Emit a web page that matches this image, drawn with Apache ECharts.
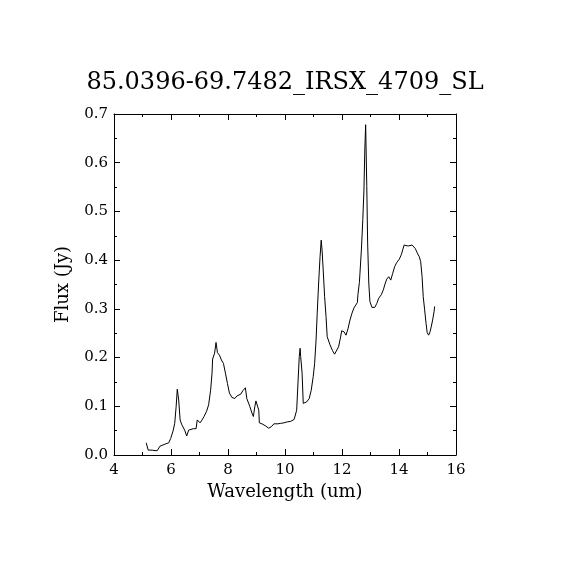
<!DOCTYPE html>
<html lang="en">
  <head>
    <meta charset="UTF-8" />
    <title>85.0396-69.7482_IRSX_4709_SL</title>
    <style>
      html, body { margin: 0; padding: 0; background: #fff; }
      #chart { width: 570px; height: 570px; }
    </style>
  </head>
  <body>
    <div id="chart"></div>

    <script src="https://cdn.jsdelivr.net/npm/echarts@6.0.0/dist/echarts.min.js"></script>
    <script>
      // spectrum
      const wavelength = [
        5.13, 5.20, 5.26, 5.34, 5.44, 5.52, 5.61, 5.68, 5.82, 5.92,
        5.99, 6.08, 6.13, 6.18, 6.22, 6.27, 6.32, 6.38, 6.48, 6.55,
        6.62, 6.69, 6.78, 6.88, 6.92, 6.97, 7.02, 7.09, 7.16, 7.25,
        7.32, 7.39, 7.44, 7.46, 7.51, 7.53, 7.58, 7.63, 7.70, 7.77,
        7.84, 7.91, 7.98, 8.05, 8.14, 8.24, 8.31, 8.38, 8.45, 8.52,
        8.56, 8.61, 8.66, 8.73, 8.77, 8.84, 8.89, 8.94, 8.98, 9.03,
        9.08, 9.10, 9.19, 9.31, 9.43, 9.52, 9.61, 9.68, 9.75, 9.85,
        9.96, 10.08, 10.20, 10.32, 10.36, 10.41, 10.46, 10.50, 10.53, 10.55,
        10.60, 10.64, 10.69, 10.76, 10.85, 10.92, 10.99, 11.04, 11.09, 11.13,
        11.18, 11.23, 11.27, 11.30, 11.34, 11.39, 11.44, 11.48, 11.58, 11.67,
        11.74, 11.81, 11.88, 11.95, 11.99, 12.07, 12.14, 12.21, 12.28, 12.35,
        12.42, 12.49, 12.54, 12.56, 12.61, 12.63, 12.68, 12.73, 12.77, 12.80,
        12.83, 12.87, 12.90, 12.94, 12.98, 13.05, 13.15, 13.22, 13.29, 13.38,
        13.45, 13.52, 13.57, 13.64, 13.71, 13.78, 13.85, 13.92, 14.01, 14.08,
        14.13, 14.18, 14.25, 14.32, 14.39, 14.46, 14.53, 14.57, 14.64, 14.71,
        14.76, 14.81, 14.85, 14.90, 14.95, 14.99, 15.04, 15.09, 15.13, 15.18,
        15.23, 15.25
      ];
      const flux = [
        0.025, 0.010, 0.009, 0.010, 0.009, 0.009, 0.018, 0.021, 0.023, 0.025,
        0.034, 0.051, 0.065, 0.099, 0.135, 0.113, 0.072, 0.062, 0.051, 0.039,
        0.051, 0.054, 0.054, 0.054, 0.072, 0.073, 0.066, 0.072, 0.079, 0.090,
        0.103, 0.133, 0.168, 0.197, 0.195, 0.209, 0.231, 0.210, 0.205, 0.195,
        0.188, 0.168, 0.147, 0.127, 0.118, 0.116, 0.121, 0.120, 0.125, 0.132,
        0.131, 0.138, 0.116, 0.112, 0.099, 0.086, 0.079, 0.099, 0.111, 0.111,
        0.092, 0.066, 0.064, 0.060, 0.055, 0.058, 0.064, 0.068, 0.064, 0.065,
        0.066, 0.068, 0.069, 0.073, 0.075, 0.092, 0.154, 0.202, 0.219, 0.202,
        0.168, 0.106, 0.103, 0.109, 0.116, 0.133, 0.161, 0.188, 0.236, 0.291,
        0.353, 0.407, 0.441, 0.421, 0.380, 0.325, 0.284, 0.243, 0.226, 0.214,
        0.207, 0.210, 0.222, 0.242, 0.255, 0.253, 0.246, 0.259, 0.277, 0.291,
        0.302, 0.304, 0.313, 0.330, 0.354, 0.373, 0.421, 0.483, 0.544, 0.626,
        0.678, 0.551, 0.435, 0.353, 0.315, 0.303, 0.303, 0.311, 0.322, 0.329,
        0.339, 0.353, 0.361, 0.366, 0.359, 0.373, 0.387, 0.395, 0.402, 0.411,
        0.421, 0.431, 0.433, 0.429, 0.426, 0.431, 0.435, 0.424, 0.415, 0.407,
        0.397, 0.366, 0.325, 0.298, 0.270, 0.251, 0.246, 0.253, 0.263, 0.277,
        0.294, 0.305
      ];

      const font = 'DejaVu Serif';
      const tick = { show: true, inside: true, length: 6, lineStyle: { color: '#000', width: 1 } };
      const minor = { show: true, splitNumber: 2, length: 3, lineStyle: { color: '#000', width: 1 } };
      const line = { show: true, onZero: false, lineStyle: { color: '#000', width: 1 } };

      function xAxis(pos, labels) {
        return {
          type: 'value', position: pos, min: 4, max: 16, interval: 2,
          axisLine: line, axisTick: tick, minorTick: minor,
          splitLine: { show: false },
          axisLabel: { show: labels, color: '#000', fontFamily: font, fontSize: 15, margin: 8 },
          name: labels ? 'Wavelength (um)' : '',
          nameLocation: 'middle', nameGap: 28,
          nameTextStyle: { color: '#000', fontFamily: font, fontSize: 18 }
        };
      }
      function yAxis(pos, labels) {
        return {
          type: 'value', position: pos, min: 0, max: 0.7, interval: 0.1,
          axisLine: line, axisTick: tick, minorTick: minor,
          splitLine: { show: false },
          axisLabel: {
            show: labels, color: '#000', fontFamily: font, fontSize: 15, margin: 6,
            formatter: (v) => v.toFixed(1)
          },
          name: labels ? 'Flux (Jy)' : '',
          nameLocation: 'middle', nameGap: 42,
          nameTextStyle: { color: '#000', fontFamily: font, fontSize: 18 }
        };
      }

      const chart = echarts.init(document.getElementById('chart'), null, { renderer: 'canvas' });
      chart.setOption({
        backgroundColor: '#fff',
        animation: false,
        title: {
          text: '85.0396-69.7482_IRSX_4709_SL',
          left: 'center', top: 66,
          textStyle: { color: '#000', fontFamily: font, fontSize: 24, fontWeight: 'normal' }
        },
        grid: { left: 114, right: 114, top: 114, bottom: 115 },
        xAxis: [xAxis('bottom', true), xAxis('top', false)],
        yAxis: [yAxis('left', true), yAxis('right', false)],
        series: [{
          type: 'line',
          xAxisIndex: 0, yAxisIndex: 0,
          data: wavelength.map((w, i) => [w, flux[i]]),
          showSymbol: false,
          lineStyle: { color: '#000', width: 1 }
        }]
      });
    </script>
  </body>
</html>
